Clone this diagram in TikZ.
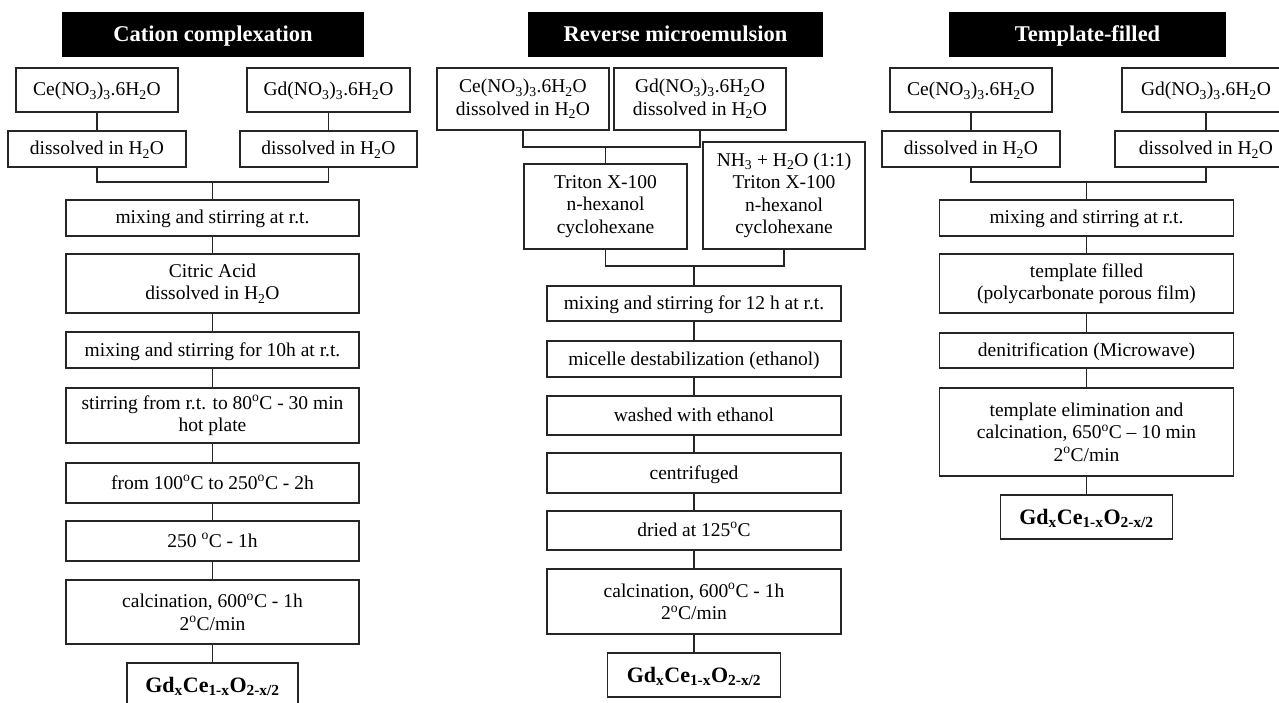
\documentclass[tikz,border=0pt]{standalone}
\usepackage{fontspec}
\setmainfont{Liberation Serif}
\newcommand\dg{\textsuperscript{o}}
\newcommand\ssb[1]{\textsubscript{#1}}
\begin{document}
\begin{tikzpicture}[x=1pt,y=-1pt,
  box/.style={draw=black!85,line width=1.8pt,fill=white,inner sep=0pt,align=center,
    font=\fontsize{19.5}{22.5}\selectfont},
  one/.style={text height=13.5pt,text depth=1.5pt},
  ttl/.style={fill=black,text=white,inner sep=0pt,align=center,
    font=\fontsize{22.5}{25}\selectfont\bfseries,text height=15.5pt,text depth=0.5pt},
  prod/.style={box,font=\fontsize{22}{24}\selectfont\bfseries,text height=15pt,text depth=1pt},
  ln/.style={draw=black!85,line width=1.8pt}]
\useasboundingbox (0,0) rectangle (1279,703);
% ---------------- Column 1 ----------------
\node[ttl,minimum width=302,minimum height=45] (t1) at (213,34.5) {Cation complexation};
\node[box,one,minimum width=162,minimum height=44] (c1a) at (97,90) {Ce(NO\ssb{3})\ssb{3}.6H\ssb{2}O};
\node[box,one,minimum width=163,minimum height=44] (c1b) at (328.5,90) {Gd(NO\ssb{3})\ssb{3}.6H\ssb{2}O};
\node[box,one,minimum width=178,minimum height=36] (d1a) at (97,149) {dissolved in H\ssb{2}O};
\node[box,one,minimum width=177,minimum height=36] (d1b) at (328.5,149) {dissolved in H\ssb{2}O};
\node[box,one,minimum width=293,minimum height=36] (m1) at (212.5,218) {mixing and stirring at r.t.};
\node[box,minimum width=293,minimum height=59] (ca1) at (212.5,283.5) {Citric Acid\\dissolved in H\ssb{2}O};
\node[box,one,minimum width=293,minimum height=36] (mx1) at (212.5,350) {mixing and stirring for 10h at r.t.};
\node[box,minimum width=293,minimum height=55] (st1) at (212.5,415.5) {stirring from r.t. to 80\dg C - 30 min\\hot plate};
\node[box,one,minimum width=293,minimum height=40] (f1) at (212.5,483) {from 100\dg C to 250\dg C - 2h};
\node[box,one,minimum width=293,minimum height=40] (h1) at (212.5,541) {250 \dg C - 1h};
\node[box,minimum width=293,minimum height=64] (cal1) at (212.5,612) {calcination, 600\dg C - 1h\\2\dg C/min};
\node[prod,minimum width=171,minimum height=44] (p1) at (212.5,685) {Gd\ssb{x}Ce\ssb{1-x}O\ssb{2-x/2}};
\coordinate (j1) at (212.5,182);
\draw[ln] (c1a) -- (d1a);
\draw[ln] (c1b) -- (d1b);
\draw[ln] (d1a.south) |- (j1) -| (d1b.south);
\draw[ln] (j1) -- (m1.north);
\draw[ln] (m1) -- (ca1);
\draw[ln] (ca1) -- (mx1);
\draw[ln] (mx1) -- (st1);
\draw[ln] (st1) -- (f1);
\draw[ln] (f1) -- (h1);
\draw[ln] (h1) -- (cal1);
\draw[ln] (cal1) -- (p1);
% ---------------- Column 2 ----------------
\node[ttl,minimum width=295,minimum height=45] (t2) at (675.5,34.5) {Reverse microemulsion};
\node[box,minimum width=172,minimum height=62] (c2a) at (523,99) {Ce(NO\ssb{3})\ssb{3}.6H\ssb{2}O\\dissolved in H\ssb{2}O};
\node[box,minimum width=172,minimum height=62] (c2b) at (700,99) {Gd(NO\ssb{3})\ssb{3}.6H\ssb{2}O\\dissolved in H\ssb{2}O};
\node[box,minimum width=163,minimum height=85] (tr2) at (605.5,206.5) {Triton X-100\\n-hexanol\\cyclohexane};
\node[box,minimum width=162,minimum height=107] (nh2) at (784,195.5) {NH\ssb{3} + H\ssb{2}O (1:1)\\Triton X-100\\n-hexanol\\cyclohexane};
\node[box,one,minimum width=294,minimum height=35] (mx2) at (694,303.5) {mixing and stirring for 12 h at r.t.};
\node[box,one,minimum width=294,minimum height=36] (mi2) at (694,359) {micelle destabilization (ethanol)};
\node[box,one,minimum width=294,minimum height=39] (wa2) at (694,415.5) {washed with ethanol};
\node[box,one,minimum width=294,minimum height=40] (ce2) at (694,473) {centrifuged};
\node[box,one,minimum width=294,minimum height=39] (dr2) at (694,530.5) {dried at 125\dg C};
\node[box,minimum width=294,minimum height=65] (cal2) at (694,601.5) {calcination, 600\dg C - 1h\\2\dg C/min};
\node[prod,minimum width=173,minimum height=44] (p2) at (694,675) {Gd\ssb{x}Ce\ssb{1-x}O\ssb{2-x/2}};
\coordinate (j2a) at (605.5,147);
\coordinate (j2b) at (694,266);
\draw[ln] (c2a.south) |- (j2a) -| (c2b.south);
\draw[ln] (j2a) -- (tr2.north);
\draw[ln] (tr2.south) |- (j2b) -| (nh2.south);
\draw[ln] (j2b) -- (mx2.north);
\draw[ln] (mx2) -- (mi2);
\draw[ln] (mi2) -- (wa2);
\draw[ln] (wa2) -- (ce2);
\draw[ln] (ce2) -- (dr2);
\draw[ln] (dr2) -- (cal2);
\draw[ln] (cal2) -- (p2);
% ---------------- Column 3 ----------------
\node[ttl,minimum width=277,minimum height=45] (t3) at (1087.5,34.5) {Template-filled};
\node[box,one,minimum width=162,minimum height=44] (c3a) at (971,90) {Ce(NO\ssb{3})\ssb{3}.6H\ssb{2}O};
\node[box,one,minimum width=168,minimum height=44] (c3b) at (1206,90) {Gd(NO\ssb{3})\ssb{3}.6H\ssb{2}O};
\node[box,one,minimum width=178,minimum height=36] (d3a) at (971,149) {dissolved in H\ssb{2}O};
\node[box,one,minimum width=182,minimum height=36] (d3b) at (1206,149) {dissolved in H\ssb{2}O};
\node[box,one,minimum width=294,minimum height=36] (mx3) at (1086.5,218) {mixing and stirring at r.t.};
\node[box,minimum width=294,minimum height=59] (tf3) at (1086.5,283.5) {template filled\\(polycarbonate porous film)};
\node[box,one,minimum width=294,minimum height=35] (de3) at (1086.5,350.5) {denitrification (Microwave)};
\node[box,minimum width=294,minimum height=88] (te3) at (1086.5,432) {template elimination and\\calcination, 650\dg C -- 10 min\\2\dg C/min};
\node[prod,minimum width=172,minimum height=44] (p3) at (1086.5,517) {Gd\ssb{x}Ce\ssb{1-x}O\ssb{2-x/2}};
\coordinate (j3) at (1086.5,182);
\draw[ln] (c3a) -- (d3a);
\draw[ln] (c3b) -- (d3b);
\draw[ln] (d3a.south) |- (j3) -| (d3b.south);
\draw[ln] (j3) -- (mx3.north);
\draw[ln] (mx3) -- (tf3);
\draw[ln] (tf3) -- (de3);
\draw[ln] (de3) -- (te3);
\draw[ln] (te3) -- (p3);
\end{tikzpicture}
\end{document}
